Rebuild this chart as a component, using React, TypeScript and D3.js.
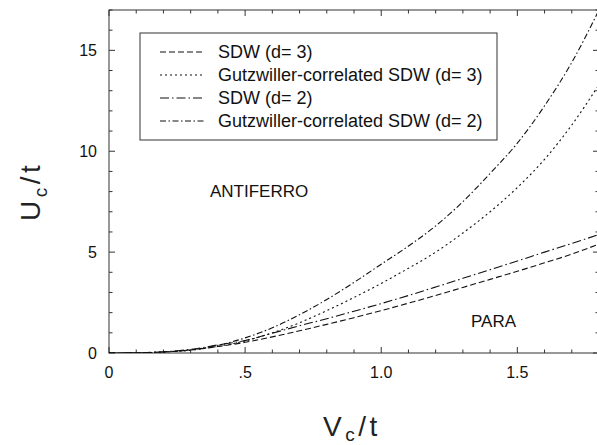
import React from 'react'
import * as d3 from 'd3'

// V_c/t sample points, and U_c/t for each curve
const vValues = [0, 0.1, 0.2, 0.3, 0.4, 0.5, 0.6, 0.7, 0.8, 0.9, 1.0, 1.1, 1.2, 1.3, 1.4, 1.5, 1.6, 1.7, 1.8]
const sdwD3 = [0, 0.01, 0.05, 0.15, 0.32, 0.53, 0.8, 1.1, 1.42, 1.75, 2.1, 2.47, 2.85, 3.25, 3.65, 4.05, 4.47, 4.9, 5.4]
const gutzD3 = [0, 0.01, 0.05, 0.14, 0.33, 0.6, 1.0, 1.5, 2.1, 2.75, 3.45, 4.2, 5.0, 5.95, 7.0, 8.2, 9.6, 11.3, 13.3]
const sdwD2 = [0, 0.01, 0.06, 0.18, 0.4, 0.62, 0.98, 1.35, 1.7, 2.07, 2.45, 2.85, 3.27, 3.7, 4.13, 4.56, 5.0, 5.43, 5.87]
const gutzD2 = [0, 0.01, 0.05, 0.15, 0.38, 0.75, 1.25, 1.9, 2.65, 3.5, 4.4, 5.3, 6.3, 7.5, 8.9, 10.4, 12.25, 14.4, 17.0]

const seriesNames = [
  'SDW (d= 3)',
  'Gutzwiller-correlated SDW (d= 3)',
  'SDW (d= 2)',
  'Gutzwiller-correlated SDW (d= 2)',
]
const seriesValues = [sdwD3, gutzD3, sdwD2, gutzD2]
const dashes = ['6,3', '2,3', '9,3,1.5,3', '6,2.5,1.5,2.5']

const xTickValues = [0, 0.5, 1.0, 1.5]
const xTickLabels = ['0', '.5', '1.0', '1.5']
const yTickValues = [0, 5, 10, 15]
const yTickLabels = ['0', '5', '10', '15']

const W = 597
const H = 445
const font = 'Liberation Sans, Arial, Helvetica, sans-serif'

export default function App() {
  const x = d3.scaleLinear().domain([0, 1.8]).range([109, 599])
  const y = d3.scaleLinear().domain([0, 17]).range([353, 10])

  const line = d3.line<number>()
    .x((_, i) => x(vValues[i]))
    .y(d => y(d))
    .curve(d3.curveMonotoneX)

  const xMinor = d3.range(0, 1.81, 0.1)
  const yMinor = d3.range(0, 17.01, 1)
  const [x0, x1] = x.range()
  const [y0, y1] = y.range()
  const axisColor = '#333'

  return (
    <svg width={W} height={H} style={{ position: 'absolute', left: 0, top: 0 }} fontFamily={font}>
      <rect width={W} height={H} fill="#fff" />
      <defs>
        <clipPath id="plot">
          <rect x={x0} y={y1} width={x1 - x0} height={y0 - y1} />
        </clipPath>
      </defs>

      {/* frame */}
      <rect x={x0} y={y1} width={x1 - x0} height={y0 - y1} fill="none" stroke={axisColor} strokeWidth={1} />

      {/* x ticks on bottom and top */}
      {xMinor.map((v, i) => {
        const major = i % 5 === 0
        const len = major ? 6 : 3.5
        return (
          <g key={'xt' + i} stroke={axisColor} strokeWidth={1}>
            <line x1={x(v)} x2={x(v)} y1={y0} y2={y0 - len} />
            <line x1={x(v)} x2={x(v)} y1={y1} y2={y1 + len} />
          </g>
        )
      })}
      {/* y ticks on left and right */}
      {yMinor.map((v, i) => {
        const major = i % 5 === 0
        const len = major ? 6 : 3.5
        return (
          <g key={'yt' + i} stroke={axisColor} strokeWidth={1}>
            <line x1={x0} x2={x0 + len} y1={y(v)} y2={y(v)} />
            <line x1={x1} x2={x1 - len} y1={y(v)} y2={y(v)} />
          </g>
        )
      })}

      {xTickValues.map((v, i) => (
        <text key={'xl' + i} x={x(v)} y={378} fontSize={16} textAnchor="middle" fill="#111">
          {xTickLabels[i]}
        </text>
      ))}
      {yTickValues.map((v, i) => (
        <text key={'yl' + i} x={97} y={y(v) + 6} fontSize={16} textAnchor="end" fill="#111">
          {yTickLabels[i]}
        </text>
      ))}

      {/* axis titles */}
      <text x={323} y={436} fontSize={28} letterSpacing={3.5} fill="#222">
        V<tspan fontSize={19} dy={5}>c</tspan><tspan dy={-5}>/t</tspan>
      </text>
      <text transform="translate(40,221) rotate(-90)" fontSize={28} letterSpacing={3.5} fill="#222">
        U<tspan fontSize={19} dy={7}>c</tspan><tspan dy={-7}>/t</tspan>
      </text>

      {/* curves */}
      <g clipPath="url(#plot)">
        {seriesValues.map((vals, i) => (
          <path key={'s' + i} d={line(vals) || ''} fill="none" stroke="#111" strokeWidth={1.1} strokeDasharray={dashes[i]} />
        ))}
      </g>

      {/* region labels */}
      <text x={210} y={197} fontSize={17} fill="#111">ANTIFERRO</text>
      <text x={471} y={327} fontSize={17} fill="#111">PARA</text>

      {/* legend */}
      <rect x={140} y={33} width={357} height={107} fill="#fff" stroke={axisColor} strokeWidth={1} />
      {seriesNames.map((name, i) => {
        const cy = 52 + i * 23
        return (
          <g key={'lg' + i}>
            <line x1={160} x2={205} y1={cy} y2={cy} stroke="#111" strokeWidth={1.1} strokeDasharray={dashes[i]} />
            <text x={218} y={cy + 6} fontSize={18} fill="#111">{name}</text>
          </g>
        )
      })}
    </svg>
  )
}
